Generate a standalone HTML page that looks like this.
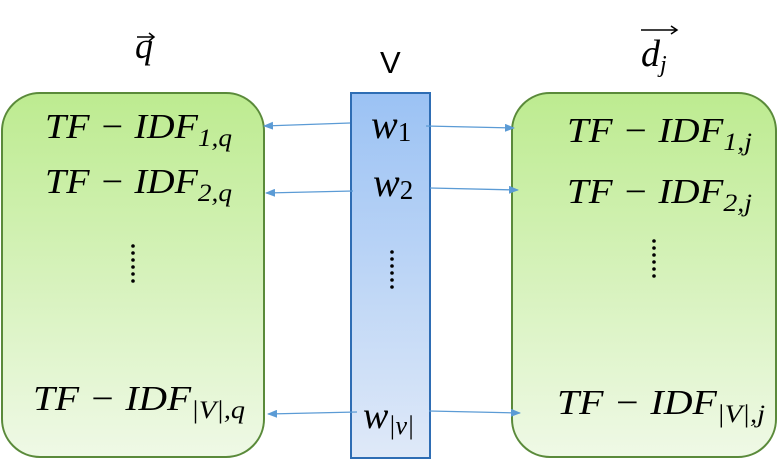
<!DOCTYPE html>
<html><head><style>
html,body{margin:0;padding:0;background:#fff;}
svg text{font-family:"Liberation Serif",serif;font-style:italic;fill:#000;}
</style></head><body>
<svg width="777" height="459" viewBox="0 0 777 459" xmlns="http://www.w3.org/2000/svg">
<defs>
<linearGradient id="g" x1="0" y1="0" x2="0" y2="1">
<stop offset="0" stop-color="#bdeb90"/><stop offset="1" stop-color="#eff9e6"/></linearGradient>
<linearGradient id="b" x1="0" y1="0" x2="0" y2="1">
<stop offset="0" stop-color="#9bc2f4"/><stop offset="1" stop-color="#dfe9f8"/></linearGradient>
<marker id="ah" markerWidth="10" markerHeight="8" refX="9" refY="4" orient="auto" markerUnits="userSpaceOnUse">
<path d="M0,0 L10,4 L0,8 Z" fill="#5b9bd5"/></marker>
</defs>
<rect x="2" y="93" width="262" height="364" rx="38" fill="url(#g)" stroke="#5a8a3a" stroke-width="2"/>
<rect x="512" y="93" width="264" height="364" rx="38" fill="url(#g)" stroke="#5a8a3a" stroke-width="2"/>
<rect x="351" y="93" width="79" height="365" fill="url(#b)" stroke="#2e6db4" stroke-width="2"/>
<g stroke="#5b9bd5" stroke-width="1.3" marker-end="url(#ah)">
<line x1="350" y1="123" x2="264" y2="126"/>
<line x1="353" y1="191" x2="266" y2="193"/>
<line x1="357" y1="412" x2="268" y2="414"/>
<line x1="426" y1="126" x2="514" y2="128"/>
<line x1="430" y1="188" x2="518" y2="190"/>
<line x1="429" y1="411" x2="520" y2="413"/>
</g>
<text x="135" y="58" font-size="36">q</text>
<path d="M137,37 L153,37 M149,33 L154,37 L149,41" stroke="#000" stroke-width="1.5" fill="none"/>
<text x="380" y="73" font-size="31" style="font-family:'Liberation Sans',sans-serif;font-style:normal">V</text>
<text x="641" y="66" font-size="38">d<tspan font-size="24" dy="6">j</tspan></text>
<path d="M641,30 L676,30 M671,26 L677,30 L671,34" stroke="#000" stroke-width="1.5" fill="none"/>
<text x="45" y="138" font-size="35" textLength="187" lengthAdjust="spacingAndGlyphs">TF − IDF<tspan font-size="25" dy="8">1,q</tspan></text>
<text x="45" y="193" font-size="35" textLength="187" lengthAdjust="spacingAndGlyphs">TF − IDF<tspan font-size="25" dy="8">2,q</tspan></text>
<text x="33" y="410" font-size="35" textLength="212" lengthAdjust="spacingAndGlyphs">TF − IDF<tspan font-size="25" dy="8">|V|,q</tspan></text>
<text x="567" y="142" font-size="35" textLength="185" lengthAdjust="spacingAndGlyphs">TF − IDF<tspan font-size="25" dy="8">1,j</tspan></text>
<text x="567" y="203" font-size="35" textLength="185" lengthAdjust="spacingAndGlyphs">TF − IDF<tspan font-size="25" dy="8">2,j</tspan></text>
<text x="557" y="414" font-size="35" textLength="208" lengthAdjust="spacingAndGlyphs">TF − IDF<tspan font-size="25" dy="8">|V|,j</tspan></text>
<text x="371" y="138" font-size="40">w<tspan font-size="27" dy="3" font-style="normal">1</tspan></text>
<text x="373" y="196" font-size="40">w<tspan font-size="27" dy="3" font-style="normal">2</tspan></text>
<text x="363" y="428" font-size="38">w<tspan font-size="26" dy="6">|v|</tspan></text>
<g fill="#000">
<circle cx="133" cy="246" r="1.8"/><circle cx="133" cy="253" r="1.8"/><circle cx="133" cy="260" r="1.8"/><circle cx="133" cy="267" r="1.8"/><circle cx="133" cy="274" r="1.8"/><circle cx="133" cy="281" r="1.8"/>
<circle cx="392" cy="252" r="1.8"/><circle cx="392" cy="259" r="1.8"/><circle cx="392" cy="266" r="1.8"/><circle cx="392" cy="273" r="1.8"/><circle cx="392" cy="280" r="1.8"/><circle cx="392" cy="287" r="1.8"/>
<circle cx="654" cy="241" r="1.8"/><circle cx="654" cy="248" r="1.8"/><circle cx="654" cy="255" r="1.8"/><circle cx="654" cy="262" r="1.8"/><circle cx="654" cy="269" r="1.8"/><circle cx="654" cy="276" r="1.8"/>
</g>
</svg>
</body></html>
